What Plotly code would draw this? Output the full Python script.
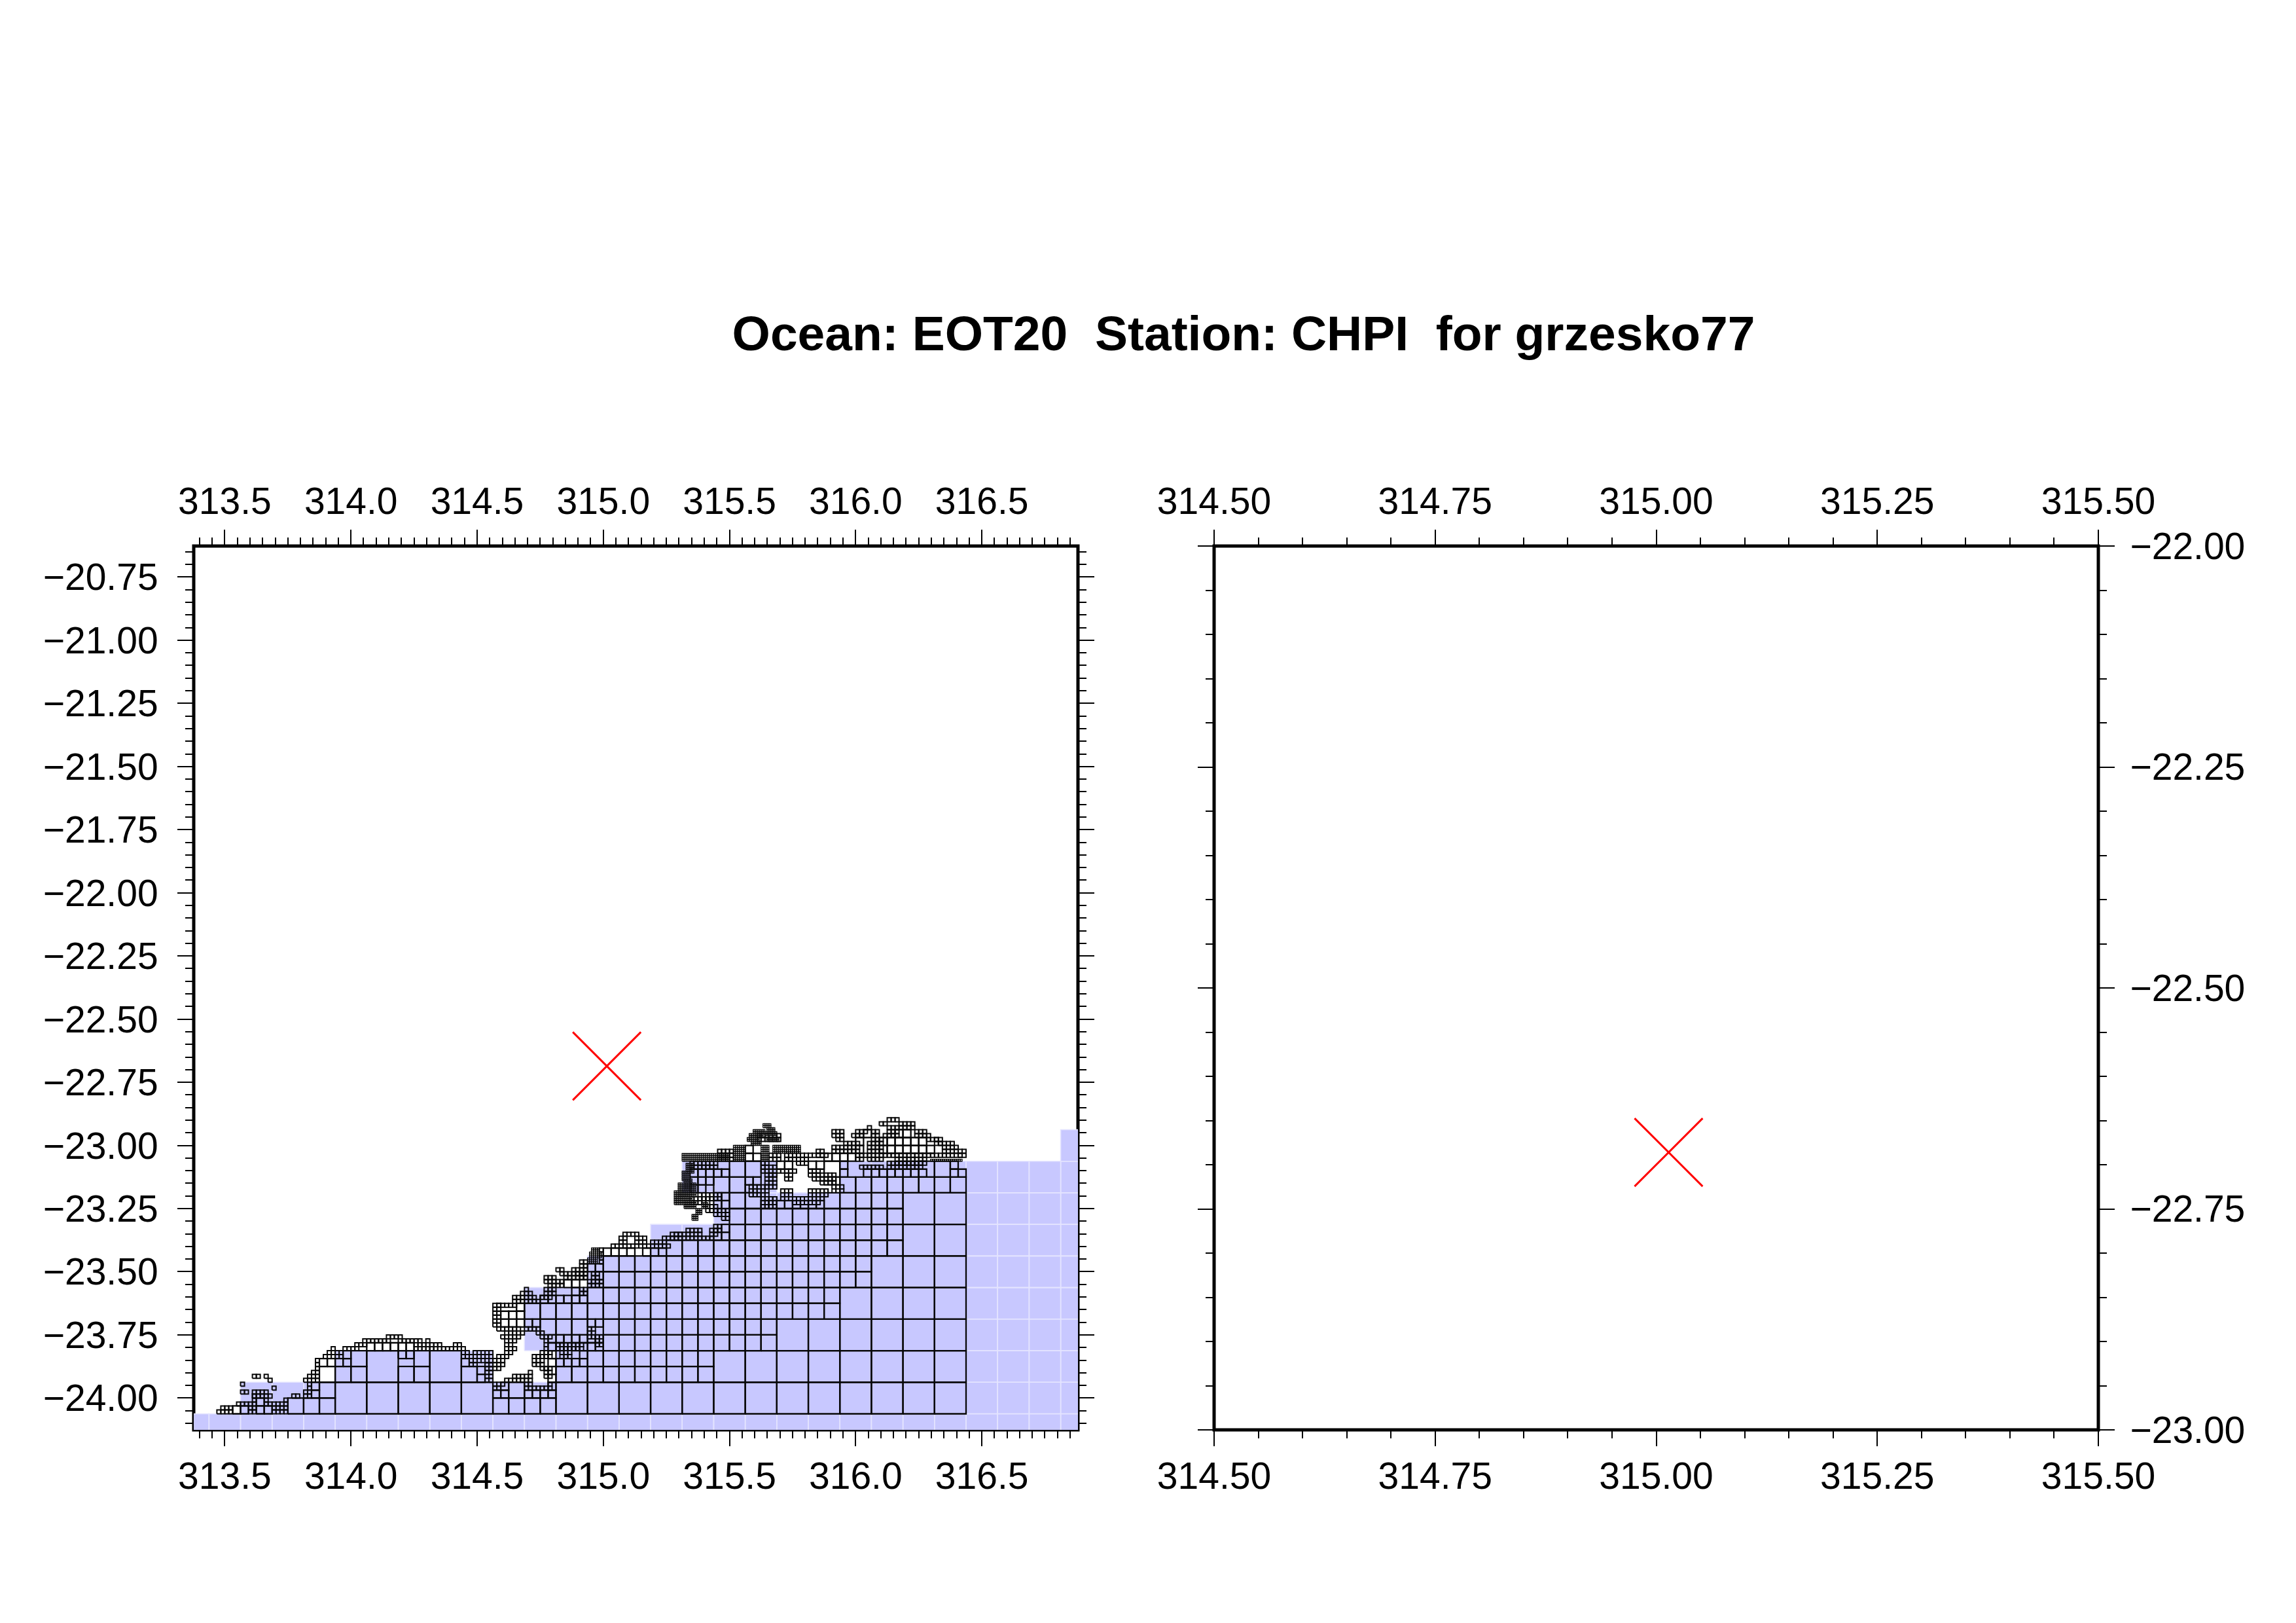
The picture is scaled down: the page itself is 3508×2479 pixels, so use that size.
import numpy as np
import plotly.graph_objects as go

# grid origin of the mesh, lon/lat of index (0,0)
lon0 = 313.4375
lat0 = -24.0625

station_lon = 315.014
station_lat = -22.686

title_text = "Ocean: EOT20\u00a0 Station: CHPI\u00a0 for grzesko77"

# blue 1/8 degree cells: (row, first col, last col)
blue_rows = [
    (-1, -1, 27), (0, 1, 27), (1, 4, 8), (1, 11, 27), (2, 10, 27), (3, 10, 27),
    (4, 12, 27), (5, 14, 27), (6, 16, 27), (7, 15, 17), (7, 20, 27), (8, 27, 27),
]

# mesh cells per level: (first row, last row, first col, last col)
mesh_8 = [
    (0, 0, 4, 8), (0, 0, 11, 23), (1, 1, 16, 23), (1, 1, 5, 5), (1, 1, 7, 7),
    (2, 2, 18, 23), (3, 3, 20, 23), (4, 4, 21, 23), (5, 6, 22, 23),
]
mesh_16 = [
    (0, 0, 5, 7), (0, 0, 18, 21), (1, 1, 7, 7), (1, 1, 19, 19),
    (2, 2, 7, 9), (2, 2, 12, 13), (2, 2, 16, 16), (2, 2, 22, 31),
    (3, 3, 9, 9), (3, 3, 13, 13), (3, 3, 24, 31),
    (4, 4, 25, 35), (5, 5, 21, 23), (5, 5, 25, 35),
    (6, 6, 20, 39), (7, 7, 24, 39), (8, 9, 25, 41),
    (10, 10, 29, 43), (11, 12, 33, 43),
    (13, 13, 33, 34), (13, 13, 39, 43),
    (14, 14, 32, 33), (14, 14, 40, 47),
    (15, 15, 33, 34), (15, 15, 39, 39), (15, 15, 45, 46),
]
mesh_32 = [
    (0, 0, 3, 4), (0, 0, 6, 7), (1, 1, 6, 6), (2, 3, 13, 13),
    (6, 6, 14, 17), (7, 7, 17, 17), (8, 8, 20, 25), (7, 7, 24, 25),
    (6, 6, 32, 32), (4, 5, 34, 34),
    (2, 2, 36, 37), (2, 2, 40, 43), (3, 3, 37, 37), (3, 3, 43, 43),
    (4, 7, 43, 43), (6, 6, 44, 47), (7, 7, 47, 47),
    (8, 8, 43, 44), (8, 8, 46, 49), (9, 9, 43, 49),
    (11, 11, 37, 41), (11, 11, 48, 49), (12, 12, 37, 39), (13, 13, 39, 39),
    (14, 14, 42, 47), (15, 15, 46, 46), (16, 16, 45, 46),
    (17, 17, 49, 49), (18, 18, 48, 49),
    (20, 20, 50, 53), (20, 20, 55, 57),
    (22, 22, 64, 65), (23, 23, 65, 65), (26, 27, 64, 65), (26, 26, 70, 77),
    (28, 28, 61, 62), (28, 28, 68, 68), (29, 29, 61, 63), (29, 29, 68, 69), (29, 29, 79, 79),
    (30, 30, 61, 65), (30, 30, 80, 80), (30, 30, 83, 90), (30, 30, 94, 95),
    (31, 31, 72, 73), (31, 31, 76, 77), (31, 31, 80, 80), (31, 31, 94, 94),
    (32, 32, 68, 69), (32, 32, 78, 81), (33, 33, 68, 68), (33, 33, 82, 82), (33, 33, 85, 91),
    (34, 34, 82, 82), (34, 34, 85, 90), (35, 35, 83, 83), (35, 35, 87, 88),
]
mesh_64 = [
    # west end
    (0, 0, 2, 5), (1, 1, 3, 5), (2, 2, 7, 11), (0, 1, 10, 11), (3, 4, 11, 11), (4, 4, 11, 15),
    (3, 3, 14, 14), (5, 5, 11, 14), (5, 5, 8, 9), (7, 7, 8, 8), (9, 9, 11, 12), (9, 9, 14, 14),
    (8, 8, 15, 15), (6, 6, 16, 16), (2, 2, 14, 15), (0, 2, 16, 19), (3, 3, 19, 19), (4, 4, 21, 22),
    (8, 8, 24, 27), (9, 9, 25, 27), (10, 10, 26, 27), (11, 13, 27, 27), (6, 7, 25, 25), (4, 5, 24, 25),
    (14, 14, 29, 33), (15, 15, 30, 33), (16, 16, 31, 31), (16, 16, 34, 37), (17, 17, 37, 39),
    (18, 18, 39, 45), (19, 19, 45, 48), (18, 18, 48, 51),
    (16, 17, 52, 56), (18, 18, 52, 53), (18, 18, 55, 55), (16, 16, 56, 64), (17, 17, 57, 58), (17, 17, 62, 63),
    (14, 15, 64, 65), (14, 14, 66, 66), (12, 13, 66, 67), (13, 14, 68, 70), (14, 15, 67, 70),
    # bay and neck
    (8, 15, 70, 71), (6, 6, 72, 73), (7, 7, 72, 74), (8, 8, 75, 81), (9, 9, 77, 81), (10, 10, 81, 81),
    (6, 6, 80, 86), (7, 7, 80, 81), (7, 7, 86, 86),
    (11, 11, 71, 73), (12, 12, 70, 74), (13, 13, 71, 74), (14, 14, 73, 75), (15, 15, 75, 76),
    (16, 16, 75, 77), (17, 17, 75, 76), (18, 18, 75, 77), (19, 19, 74, 78), (20, 20, 75, 79), (21, 21, 73, 78),
    (22, 27, 72, 73), (27, 27, 73, 77), (28, 28, 77, 83), (29, 29, 77, 82), (30, 30, 79, 81), (31, 31, 80, 80),
    (29, 29, 84, 86), (21, 21, 80, 83), (20, 20, 83, 84), (19, 19, 84, 86), (16, 18, 85, 85),
    (12, 14, 82, 84), (14, 15, 84, 86), (9, 11, 85, 86), (11, 11, 84, 85),
    (14, 15, 89, 91), (16, 16, 90, 92), (16, 17, 91, 94), (16, 17, 88, 90),
    (19, 20, 96, 97), (18, 19, 98, 99), (17, 17, 98, 99), (21, 21, 96, 97),
    # north of the bay
    (30, 31, 85, 87), (33, 34, 85, 87), (32, 32, 86, 87), (32, 33, 88, 89),
    (36, 36, 88, 89), (35, 35, 89, 91), (34, 34, 90, 92), (35, 36, 92, 93), (34, 35, 93, 95), (34, 38, 94, 95),
    (30, 31, 94, 95), (32, 33, 96, 99), (34, 35, 97, 98), (38, 41, 99, 99),
    (42, 42, 102, 116), (43, 44, 104, 105), (45, 45, 105, 108), (43, 44, 108, 110), (43, 43, 112, 115),
    (44, 44, 115, 116), (44, 45, 117, 119),
    # lagoon headland
    (44, 44, 117, 127), (45, 45, 118, 124), (46, 46, 121, 124), (45, 46, 127, 128), (46, 47, 128, 129),
    (49, 49, 130, 131), (50, 51, 128, 131), (51, 52, 126, 128),
    (53, 54, 122, 126), (54, 54, 125, 129), (55, 55, 124, 129),
    (62, 63, 122, 128), (64, 66, 129, 132),
    (64, 65, 142, 144), (69, 70, 139, 144), (64, 65, 146, 148),
    (61, 61, 144, 148), (59, 60, 146, 147), (61, 63, 140, 141), (60, 62, 142, 143), (57, 60, 141, 143),
    (55, 57, 137, 141), (52, 54, 140, 143), (53, 54, 142, 143), (54, 56, 145, 147), (53, 54, 148, 154),
    (55, 56, 152, 156), (54, 55, 152, 155),
    (63, 65, 149, 151), (60, 61, 152, 154), (59, 60, 153, 155), (65, 65, 152, 156), (58, 60, 156, 158),
    (65, 66, 154, 155), (58, 59, 155, 158), (56, 56, 153, 156), (56, 57, 158, 160),
    # northern headland
    (66, 67, 158, 160), (70, 71, 158, 160), (69, 69, 159, 160), (66, 68, 161, 164), (70, 70, 163, 165),
    (71, 71, 164, 166), (72, 72, 167, 167), (70, 71, 168, 169), (66, 69, 168, 170), (66, 68, 167, 167),
    (70, 70, 171, 174), (74, 74, 172, 174), (73, 73, 170, 171), (71, 72, 172, 174), (72, 73, 175, 178),
    (70, 71, 179, 181), (70, 70, 182, 182), (69, 69, 182, 184), (68, 69, 184, 185), (68, 68, 185, 188),
    (66, 67, 186, 187), (66, 67, 188, 189), (65, 66, 190, 191),
    (65, 65, 164, 185), (65, 65, 186, 190), (64, 64, 164, 165), (64, 64, 167, 170), (63, 64, 174, 181),
    (62, 62, 165, 170), (62, 63, 172, 180),
]
mesh_128 = [
    (76, 78, 192, 196), (79, 81, 193, 198), (82, 83, 194, 197),
    (98, 100, 245, 247), (101, 103, 247, 249), (104, 106, 250, 252), (104, 107, 241, 246),
    (106, 112, 236, 244), (110, 116, 238, 246),
    (114, 118, 241, 244), (118, 122, 240, 243), (122, 126, 242, 245),
    (128, 131, 240, 263), (128, 135, 266, 271), (128, 135, 280, 283), (132, 135, 286, 299),
    (136, 137, 275, 279), (138, 139, 273, 278), (140, 141, 274, 280), (142, 143, 276, 281),
    (141, 142, 282, 287), (143, 144, 283, 286), (145, 146, 281, 284), (138, 139, 283, 288),
    (128, 128, 366, 381),
]

x_ticks_left = [313.5, 314.0, 314.5, 315.0, 315.5, 316.0, 316.5]
y_ticks_left = [-24.0, -23.75, -23.5, -23.25, -23.0, -22.75, -22.5, -22.25, -22.0,
                -21.75, -21.5, -21.25, -21.0, -20.75]
x_ticks_right = [314.5, 314.75, 315.0, 315.25, 315.5]
y_ticks_right = [-23.0, -22.75, -22.5, -22.25, -22.0]

x_range_left = [313.377, 316.881]
y_range_left = [-24.126, -20.627]
x_range_right = [314.5, 315.5]
y_range_right = [-23.0, -22.0]


def squares(cells, n):
    # closed squares separated by gaps, n cells per degree
    xs, ys = [], []
    for row, col in cells:
        x = lon0 + col / n
        y = lat0 + row / n
        d = 1.0 / n
        xs += [x, x + d, x + d, x, x, None]
        ys += [y, y, y + d, y + d, y, None]
    return xs, ys


def expand(blocks):
    out = []
    for r0, r1, c0, c1 in blocks:
        for r in range(r0, r1 + 1):
            for c in range(c0, c1 + 1):
                out.append((r, c))
    return out


fig = go.Figure()

blue_cells = [(r, c) for r, c0, c1 in blue_rows for c in range(c0, c1 + 1)]
bx, by = squares(blue_cells, 8)
fig.add_trace(go.Scatter(x=bx, y=by, mode="lines", fill="toself", fillcolor="#C8C8FF",
                         line=dict(color="#E4E4FF", width=1.6), hoverinfo="skip", showlegend=False))

for blocks, n, lw in [(mesh_8, 8, 2.3), (mesh_16, 16, 2.3), (mesh_32, 32, 2.3), (mesh_64, 64, 2.0), (mesh_128, 128, 1.4)]:
    mx, my = squares(expand(blocks), n)
    fig.add_trace(go.Scatter(x=mx, y=my, mode="lines", line=dict(color="#080808", width=lw),
                             hoverinfo="skip", showlegend=False))

station = dict(symbol="x-thin", size=104, color="red", line=dict(color="red", width=3))
fig.add_trace(go.Scatter(x=[station_lon], y=[station_lat], mode="markers", marker=station, showlegend=False))
fig.add_trace(go.Scatter(x=[station_lon], y=[station_lat], mode="markers", marker=station, showlegend=False,
                         xaxis="x2", yaxis="y2"))
# the top axes only draw when something sits on them
fig.add_trace(go.Scatter(x=[station_lon], y=[station_lat], mode="markers", marker=dict(size=1, opacity=0),
                         showlegend=False, xaxis="x3", yaxis="y"))
fig.add_trace(go.Scatter(x=[station_lon], y=[station_lat], mode="markers", marker=dict(size=1, opacity=0),
                         showlegend=False, xaxis="x4", yaxis="y2"))

W, H = 3508, 2479
# the page body adds 8px round the figure
dom_left = [288 / W, 1639 / W]
dom_right = [1847 / W, 3198 / W]
dom_y = [1 - 2176 / H, 1 - 826 / H]

font = dict(family="Liberation Sans", size=57, color="black")
minor = dict(dtick=0.05, ticks="outside", ticklen=12, tickwidth=2, tickcolor="black", showgrid=False)


def axis(**kw):
    base = dict(showgrid=False, zeroline=False, showline=False, ticks="outside", ticklen=24, tickwidth=2,
                tickcolor="black", tickfont=font, tickmode="array", autorange=False, automargin=False)
    base.update(kw)
    return base


fig.update_layout(
    width=W, height=H, margin=dict(l=0, r=0, t=0, b=0), paper_bgcolor="white", plot_bgcolor="white",
    showlegend=False,
    title=dict(text=title_text, x=1892 / W, xanchor="center", y=1 - 501 / H, yanchor="middle",
               font=dict(family="Liberation Sans", size=75, color="black", weight="bold")),
    xaxis=axis(domain=dom_left, range=x_range_left, tickvals=x_ticks_left, ticktext=[f"{v:.1f}" for v in x_ticks_left],
               side="bottom", anchor="y", minor=dict(minor, tick0=313.5), ticklabelstandoff=-3),
    xaxis3=axis(domain=dom_left, range=x_range_left, tickvals=x_ticks_left, ticktext=[f"{v:.1f}" for v in x_ticks_left],
                side="top", anchor="y", overlaying="x", minor=dict(minor, tick0=313.5), ticklabelstandoff=1),
    yaxis=axis(domain=dom_y, range=y_range_left, tickvals=y_ticks_left,
               ticktext=[f"\u2212{abs(v):.2f}" for v in y_ticks_left], side="left", anchor="x", mirror="ticks",
               minor=dict(minor, tick0=-24.0), ticklabelstandoff=18),
    xaxis2=axis(domain=dom_right, range=x_range_right, tickvals=x_ticks_right,
                ticktext=[f"{v:.2f}" for v in x_ticks_right], side="bottom", anchor="y2",
                minor=dict(minor, tick0=314.5), ticklabelstandoff=-3),
    xaxis4=axis(domain=dom_right, range=x_range_right, tickvals=x_ticks_right,
                ticktext=[f"{v:.2f}" for v in x_ticks_right], side="top", anchor="y2", overlaying="x2",
                minor=dict(minor, tick0=314.5), ticklabelstandoff=1),
    yaxis2=axis(domain=dom_y, range=y_range_right, tickvals=y_ticks_right,
                ticktext=[f"\u2212{abs(v):.2f}" for v in y_ticks_right], side="right", anchor="x2", mirror="ticks",
                minor=dict(minor, tick0=-23.0), ticklabelstandoff=12),
    shapes=[
        dict(type="rect", xref="x domain", yref="y domain", x0=0, x1=1, y0=0, y1=1, layer="below",
             line=dict(color="black", width=5)),
        dict(type="rect", xref="x2 domain", yref="y2 domain", x0=0, x1=1, y0=0, y1=1, layer="below",
             line=dict(color="black", width=5)),
    ],
)

fig.write_html("out.html")
